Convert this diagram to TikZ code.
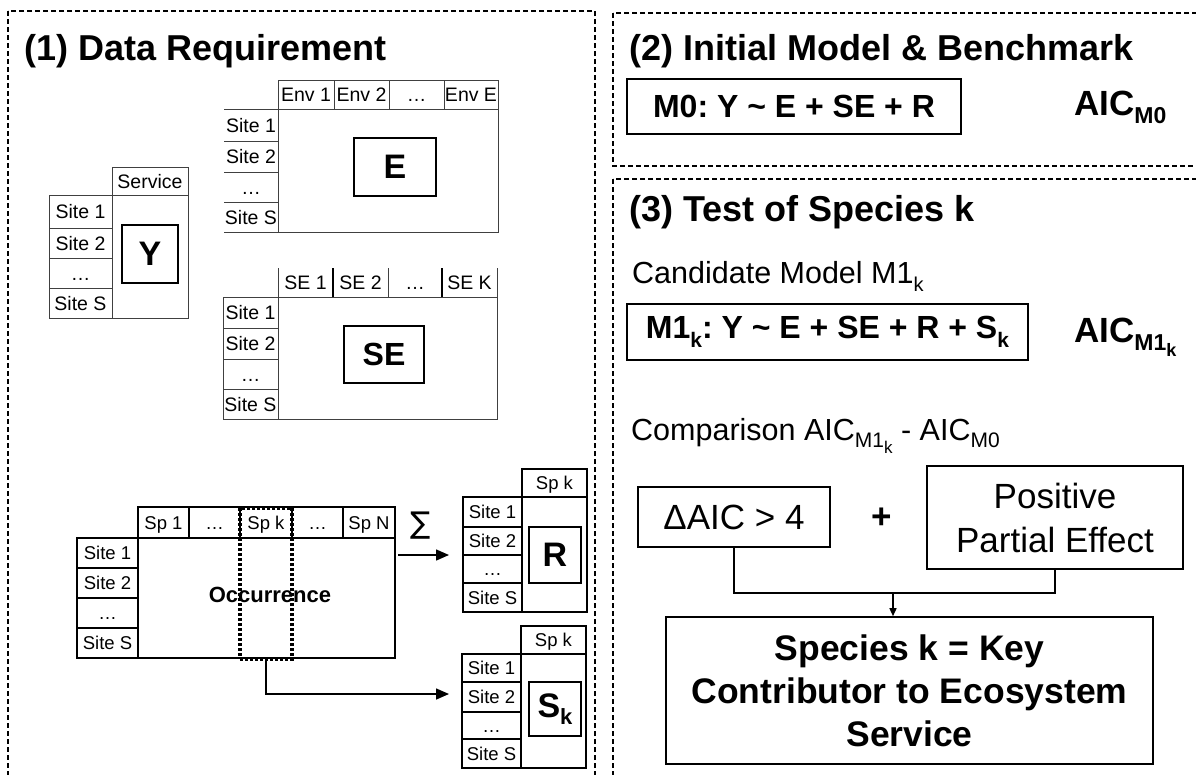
\documentclass[tikz,border=0pt]{standalone}
\usepackage{fontspec}
\setmainfont{Liberation Sans}
\newfontfamily\djv{DejaVu Sans}
\usetikzlibrary{arrows.meta}
\frenchspacing
\newcommand\mysub[3][8]{\raisebox{-#1pt}{\fontsize{#2}{#2}\selectfont #3}}
\tikzset{
  panel/.style={draw=black, line width=1.2pt, dash pattern=on 5pt off 3pt},
  tbl/.style={draw=black!75, line width=1pt},
  tblk/.style={draw=black, line width=1.4pt},
  tblb/.style={draw=black, line width=1.9pt},
  cellA/.style={inner sep=0pt, text height=14pt, text depth=0pt, font=\fontsize{19.5}{19.5}\selectfont},
  cellB/.style={inner sep=0pt, text height=13.5pt, text depth=0pt, font=\fontsize{18.5}{18.5}\selectfont},
  bigl/.style={draw=black, line width=1.6pt, inner sep=0pt, font=\bfseries\fontsize{34}{34}\selectfont},
  ttl/.style={anchor=base west, inner sep=0pt, font=\bfseries\fontsize{36}{36}\selectfont},
  box/.style={draw=black, line width=1.6pt, inner sep=0pt, align=center},
  conn/.style={draw=black, line width=1.5pt},
  bigarrow/.style={conn, -{Triangle[length=13pt,width=11pt]}},
  smallarrow/.style={conn, -{Triangle[length=8pt,width=7pt]}},
}
\begin{document}
\begin{tikzpicture}[x=1pt,y=-1pt]
\useasboundingbox (0,0) rectangle (1196,774);
\clip (0,0) rectangle (1196,774);
\fill[white] (0,0) rectangle (1196,774);

% panels
\draw[panel] (8,11) rectangle (595,800);
\draw[panel] (613,13) rectangle (1220,166);
\draw[panel] (613,179) rectangle (1220,800);

% titles
\node[ttl] (t1) at (24,60) {(1) Data Requirement};
\node[ttl] (t2) at (629,60) {(2) Initial Model \& Benchmark};
\node[ttl] (t3) at (629,221) {(3) Test of Species k};

% ---------- Y table
\draw[tbl] (112,167) rectangle (188,195);
\draw[tbl] (112,195) rectangle (188,318);
\draw[tbl] (49,195) rectangle (112,318);
\foreach \yy in {228,258,288} \draw[tbl] (49,\yy) -- (112,\yy);
\node[cellA] (ysrv) at (150,181) {Service};
\node[cellA] (ys1) at (80.5,211.5) {Site 1};
\node[cellA] (ys2) at (80.5,243) {Site 2};
\node[cellA] (ys3) at (80.5,273) {…};
\node[cellA] (ys4) at (80.5,303) {Site S};
\node[bigl, minimum width=56pt, minimum height=58pt] (ybox) at (150,254) {Y};

% ---------- E table
\draw[tbl] (278,80) rectangle (498,109);
\foreach \xx in {334,389,444} \draw[tbl] (\xx,80) -- (\xx,109);
\draw[tbl] (498,109) -- (498,232) -- (224,232);
\draw[tbl] (278,109) -- (278,232);
\foreach \yy in {109,141,172,202} \draw[tbl] (224,\yy) -- (278,\yy);
\node[cellA] (eh1) at (306,94.5) {Env 1};
\node[cellA] (eh2) at (361.5,94.5) {Env 2};
\node[cellA] (eh3) at (416.5,94.5) {…};
\node[cellA] (eh4) at (471,94.5) {Env E};
\node[cellA] (es1) at (251,125) {Site 1};
\node[cellA] (es2) at (251,156.5) {Site 2};
\node[cellA] (es3) at (251,187) {…};
\node[cellA] (es4) at (251,217) {Site S};
\node[bigl, minimum width=82pt, minimum height=58pt] (ebox) at (395,167) {E};

% ---------- SE table
\foreach \xx in {278,388,497} \draw[tbl] (\xx,268) -- (\xx,297);
\foreach \xx in {333,442} \draw[tblk] (\xx,268) -- (\xx,297);
\draw[tbl] (223,297) -- (497,297) -- (497,419) -- (223,419) -- cycle;
\draw[tbl] (278,297) -- (278,419);
\foreach \yy in {328,359,389} \draw[tbl] (223,\yy) -- (278,\yy);
\node[cellA] (sh1) at (305.5,282.5) {SE 1};
\node[cellA] (sh2) at (360.5,282.5) {SE 2};
\node[cellA] (sh3) at (415,282.5) {…};
\node[cellA] (sh4) at (469.5,282.5) {SE K};
\node[cellA] (ss1) at (250.5,312.5) {Site 1};
\node[cellA] (ss2) at (250.5,343.5) {Site 2};
\node[cellA] (ss3) at (250.5,374) {…};
\node[cellA] (ss4) at (250.5,404) {Site S};
\node[bigl, minimum width=80pt, minimum height=57pt, font=\bfseries\fontsize{32}{32}\selectfont] (sebox) at (384,354.5) {SE};

% ---------- Occurrence table
\draw[tblb] (138,507) rectangle (395,538);
\foreach \xx in {189,240,292,343} \draw[tblb] (\xx,507) -- (\xx,538);
\draw[tblb] (77,538) rectangle (138,658);
\foreach \yy in {568,598,628} \draw[tblb] (77,\yy) -- (138,\yy);
\draw[tblb] (138,538) rectangle (395,658);
\node[cellB] (oh1) at (163.5,522.5) {Sp 1};
\node[cellB] (oh2) at (214.5,522.5) {…};
\node[cellB] (oh3) at (266,522.5) {Sp k};
\node[cellB] (oh4) at (317.5,522.5) {…};
\node[cellB] (oh5) at (369,522.5) {Sp N};
\node[cellB] (os1) at (107.5,553) {Site 1};
\node[cellB] (os2) at (107.5,583) {Site 2};
\node[cellB] (os3) at (107.5,613) {…};
\node[cellB] (os4) at (107.5,643) {Site S};
\node[inner sep=0pt, font=\bfseries\fontsize{22}{22}\selectfont] (occ) at (270,595) {Occurrence};
\node[draw=black, line width=3.2pt, dash pattern=on 3pt off 2pt, inner sep=0pt,
      minimum width=52pt, minimum height=151pt] (spk) at (266,583.5) {};

% ---------- R table
\draw[tblb] (522,469) rectangle (587,497);
\draw[tblb] (463,497) rectangle (522,612);
\foreach \yy in {527,555,583} \draw[tblb] (463,\yy) -- (522,\yy);
\draw[tblb] (522,497) rectangle (587,612);
\node[cellB] (rh) at (554.5,483) {Sp k};
\node[cellB] (rs1) at (492.5,512) {Site 1};
\node[cellB] (rs2) at (492.5,541) {Site 2};
\node[cellB] (rs3) at (492.5,569) {…};
\node[cellB] (rs4) at (492.5,597.5) {Site S};
\node[bigl, minimum width=52pt, minimum height=56pt] (rbox) at (555,555) {R};

% ---------- Sk table
\draw[tblb] (521,626) rectangle (586,654);
\draw[tblb] (462,654) rectangle (521,768);
\foreach \yy in {682,712,739} \draw[tblb] (462,\yy) -- (521,\yy);
\draw[tblb] (521,654) rectangle (586,768);
\node[cellB] (kh) at (553.5,640) {Sp k};
\node[cellB] (ks1) at (491.5,668) {Site 1};
\node[cellB] (ks2) at (491.5,697) {Site 2};
\node[cellB] (ks3) at (491.5,725.5) {…};
\node[cellB] (ks4) at (491.5,753.5) {Site S};
\node[bigl, minimum width=52pt, minimum height=54pt] (kbox) at (555,709) {S\mysub[7]{22}{k}};

% ---------- arrows panel 1
\node[inner sep=0pt, font=\djv\fontsize{30}{30}\selectfont] (sig) at (421,526) {∑};
\coordinate (occout) at (398,555);
\coordinate (rin) at (449,555);
\draw[bigarrow] (occout) -- (rin);
\coordinate (skin) at (449,694);
\draw[bigarrow] (spk.south) |- (skin);

% ---------- panel 2
\node[box, minimum width=334pt, minimum height=55pt, font=\bfseries\fontsize{32}{32}\selectfont] (m0) at (794,106.5)
  {M0: Y \textasciitilde{} E + SE + R};
\node[anchor=base west, inner sep=0pt, font=\bfseries\fontsize{35}{35}\selectfont] (aic0) at (1074,115)
  {AIC\mysub{23}{M0}};

% ---------- panel 3
\node[anchor=base west, inner sep=0pt, font=\fontsize{30.5}{30.5}\selectfont] (cand) at (632,283)
  {Candidate Model M1\mysub{20}{k}};
\node[box, minimum width=401pt, minimum height=56pt, font=\bfseries\fontsize{32}{32}\selectfont] (m1) at (827.5,332)
  {M1\mysub[9]{21}{k}: Y \textasciitilde{} E + SE + R + S\mysub[9]{21}{k}};
\node[anchor=base west, inner sep=0pt, font=\bfseries\fontsize{35}{35}\selectfont] (aic1) at (1074,342)
  {AIC\mysub{23}{M1\mysub[6]{18}{k}}};
\node[anchor=base west, inner sep=0pt, font=\fontsize{30.5}{30.5}\selectfont] (cmp) at (631,440)
  {Comparison AIC\mysub[7]{21}{M1\mysub[6]{17}{k}} - AIC\mysub[7]{21}{M0}};

\node[box, minimum width=192pt, minimum height=60pt, font=\fontsize{35}{35}\selectfont] (daic) at (734,517) {ΔAIC > 4};
\node[inner sep=0pt, font=\bfseries\fontsize{35}{35}\selectfont] (plus) at (882,518) {+};
\node[box, minimum width=256pt, minimum height=103pt, font=\fontsize{35}{44}\selectfont] (pos) at (1055,517.5)
  {Positive\\Partial Effect};
\node[box, minimum width=487pt, minimum height=147pt, font=\bfseries\fontsize{35.5}{43}\selectfont] (res) at (909.5,690.5)
  {Species k = Key\\Contributor to Ecosystem\\Service};

\draw[conn] (daic.south) -- ++(0,45) -| (pos.south);
\coordinate (join) at (893,592);
\draw[smallarrow] (join) -- (join |- res.north);
\end{tikzpicture}
\end{document}
